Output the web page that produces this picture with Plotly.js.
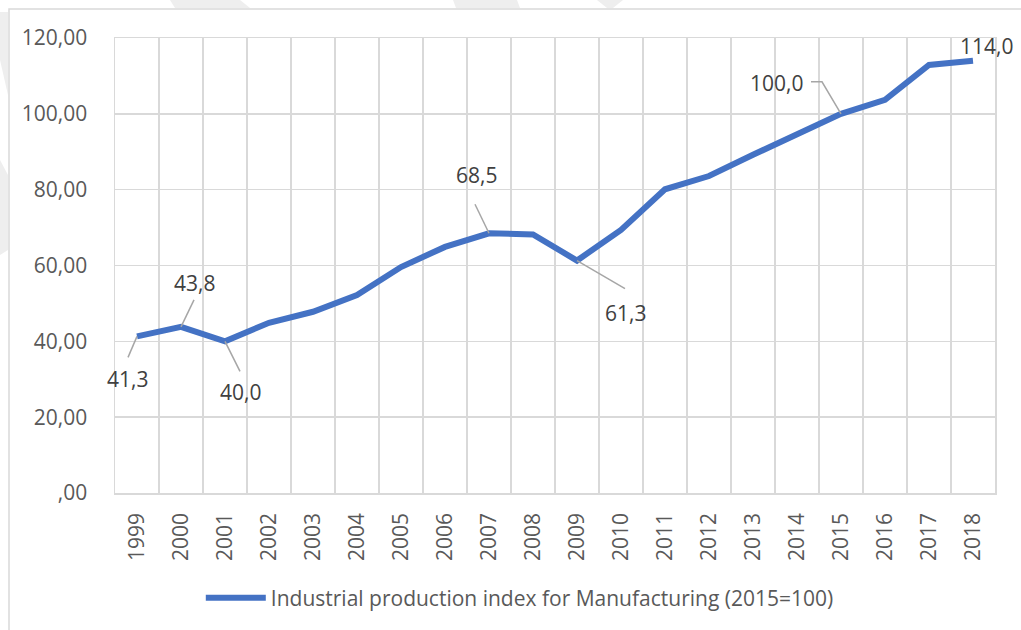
<!DOCTYPE html>
<html>
<head>
<meta charset="utf-8">
<script src="https://cdn.plot.ly/plotly-3.0.1.min.js"></script>
<style>html,body{margin:0;padding:0;background:#fff;}#chart{width:1021px;height:630px;}</style>
</head>
<body>
<div id="chart"></div>
<script>
// ---- data ----
const years = ['1999','2000','2001','2002','2003','2004','2005','2006','2007','2008','2009','2010','2011','2012','2013','2014','2015','2016','2017','2018'];
const values = [41.3, 43.8, 40.0, 44.9, 47.8, 52.2, 59.6, 64.9, 68.5, 68.2, 61.3, 69.4, 80.1, 83.6, 89.2, 94.5, 100.0, 103.7, 112.9, 114.0];
const seriesName = 'Industrial production index for Manufacturing (2015=100)';
const yTickVals = [0, 20, 40, 60, 80, 100, 120];
const yTickText = [',00', '20,00', '40,00', '60,00', '80,00', '100,00', '120,00'];
const labelYears = ['1999','2000','2001','2007','2009','2015','2018'];

// label placement (pixel offsets: dx right, dy down) and leader lines
const labelStyle = {
  '1999': {dx: -10, dy: 43, lead: [[0,0],[-9,21]]},
  '2000': {dx: 13, dy: -44, lead: [[0,0],[13,-27]]},
  '2001': {dx: 15, dy: 51, lead: [[0,0],[15,30]]},
  '2007': {dx: -13, dy: -58, lead: [[0,0],[-14,-29]]},
  '2009': {dx: 48, dy: 52, lead: [[0,0],[48,28]]},
  '2015': {dx: -65, dy: -31, lead: [[0,0],[-19,-32],[-30,-32]]},
  '2018': {dx: 13, dy: -15, lead: null}
};

function fmt(v){ return v.toFixed(1).replace('.', ','); }

const FS = 21;
const annotations = [];
const shapes = [];
labelYears.forEach(yr => {
  const i = years.indexOf(yr);
  const v = values[i];
  const st = labelStyle[yr];
  annotations.push({
    x: i, y: v, xref: 'x', yref: 'y', text: fmt(v), showarrow: false,
    xshift: st.dx, yshift: -st.dy,
    font: {family: 'Open Sans, sans-serif', size: FS, color: '#404040'}
  });
  if (st.lead) {
    const path = st.lead.map((p, k) => (k === 0 ? 'M' : 'L') + p[0] + ',' + (-p[1])).join(' ');
    shapes.push({
      type: 'path', xref: 'x', yref: 'y', xsizemode: 'pixel', ysizemode: 'pixel',
      xanchor: i, yanchor: v, path: path,
      line: {color: '#a6a6a6', width: 1.5}, layer: 'above'
    });
  }
});

// page frame and faint watermark (pixel -> paper)
const L = 115, T = 38, W = 880, H = 455;
const px = x => (x - L) / W;
const py = y => (T + H - y) / H;
function poly(pts){ return pts.map((p,k)=>(k===0?'M':'L')+px(p[0])+','+py(p[1])).join(' ')+' Z'; }
const wm = '#eeeeee';
[
  [[170,0],[240,0],[250,8],[175,8]],
  [[453,0],[517,0],[520,8],[456,8]],
  [[597,0],[623,0],[613,8],[607,8]],
  [[0,12],[8,12],[8,95],[0,60]],
  [[0,160],[8,175],[8,250],[0,255]]
].forEach(pts => shapes.push({type:'path', xref:'paper', yref:'paper', path: poly(pts), fillcolor: wm, line:{width:0}, layer:'below'}));
shapes.push({type:'rect', xref:'paper', yref:'paper', x0: px(9), x1: px(1030), y0: py(9), y1: py(640),
  line:{color:'#d9d9d9', width:1.5}, fillcolor:'rgba(0,0,0,0)', layer:'below'});

const trace = {
  x: years, y: values, type: 'scatter', mode: 'lines', name: seriesName,
  line: {color: '#4472C4', width: 6, shape: 'linear'},
  hoverinfo: 'x+y'
};

const layout = {
  width: 1021, height: 630,
  margin: {l: L, r: 1021 - L - W, t: T, b: 630 - T - H, pad: 0},
  paper_bgcolor: '#ffffff', plot_bgcolor: '#ffffff',
  font: {family: 'Open Sans, sans-serif', size: FS, color: '#595959'},
  showlegend: true,
  legend: {
    orientation: 'h', x: 0.46, xanchor: 'center', y: py(598), yanchor: 'middle',
    itemwidth: 60, font: {family: 'Open Sans, sans-serif', size: FS, color: '#595959'},
    bgcolor: 'rgba(0,0,0,0)'
  },
  xaxis: {
    type: 'category', range: [-0.5, years.length - 0.5], tickson: 'boundaries',
    showgrid: true, gridcolor: '#d9d9d9', gridwidth: 1.5,
    ticks: '', tickangle: -90, ticklabelstandoff: 10,
    showline: true, linecolor: '#d9d9d9', linewidth: 1.5, mirror: true,
    tickfont: {family: 'Open Sans, sans-serif', size: FS, color: '#595959'},
    fixedrange: true
  },
  yaxis: {
    range: [0, 120], tickvals: yTickVals, ticktext: yTickText,
    showgrid: true, gridcolor: '#d9d9d9', gridwidth: 1.5, zeroline: false,
    ticks: '', ticklabelstandoff: 22,
    showline: true, linecolor: '#d9d9d9', linewidth: 1.5, mirror: true,
    tickfont: {family: 'Open Sans, sans-serif', size: FS, color: '#595959'},
    fixedrange: true
  },
  annotations: annotations,
  shapes: shapes
};

Plotly.newPlot('chart', [trace], layout, {displayModeBar: false, staticPlot: true});
</script>
</body>
</html>
